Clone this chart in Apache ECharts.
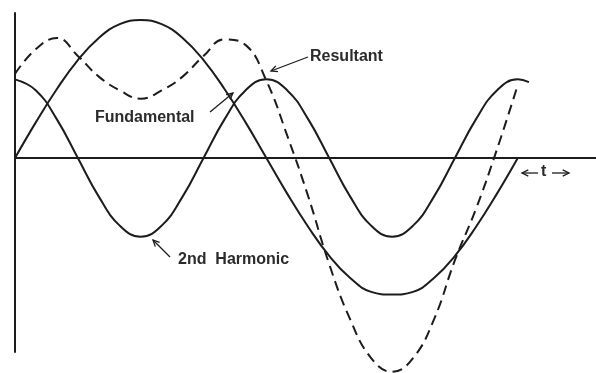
<!DOCTYPE html>
<html>
<head>
<meta charset="utf-8">
<script src="https://cdn.jsdelivr.net/npm/echarts@6/dist/echarts.min.js"></script>
<style>
  html, body { margin: 0; padding: 0; background: #ffffff; }
  #chart { width: 596px; height: 373px; }
</style>
</head>
<body>
<div id="chart"></div>
<script>
// Phase angle in degrees over one period of the fundamental
var phase = [0, 15, 30, 45, 60, 75, 90, 105, 120, 135, 150, 165, 180,
             195, 210, 225, 240, 255, 270, 285, 300, 315, 330, 345, 360];

// Instantaneous values, fundamental peak = 1
var fundamental = [0, 0.26, 0.50, 0.71, 0.87, 0.97, 1.00, 0.97, 0.87, 0.71, 0.50, 0.26, 0,
                   -0.26, -0.50, -0.71, -0.87, -0.97, -0.99, -0.97, -0.87, -0.71, -0.50, -0.26, 0];
var secondHarmonic = [0.57, 0.49, 0.28, 0, -0.28, -0.49, -0.57, -0.49, -0.28, 0, 0.28, 0.49, 0.57,
                      0.49, 0.28, 0, -0.28, -0.49, -0.57, -0.49, -0.28, 0, 0.28, 0.49, 0.57];
var resultant = [0.61, 0.79, 0.87, 0.74, 0.59, 0.49, 0.43, 0.49, 0.59, 0.74, 0.86, 0.82, 0.56,
                 0.16, -0.28, -0.77, -1.17, -1.45, -1.55, -1.45, -1.17, -0.74, -0.37, 0.06, 0.53];

// The harmonic trace runs a little past the end of the period
var harmonicTailPhase = [368];
var harmonicTail = [0.55];

var labels = { fundamental: 'Fundamental', harmonic: '2nd  Harmonic', resultant: 'Resultant', time: 't' };

function pairs(xs, ys) {
  return xs.map(function (x, i) { return [x, ys[i]]; });
}

var INK = '#1c1c1c';
var TEXT = '#2b2b2b';
var FONT = '"Liberation Sans", Arial, sans-serif';

function curve(name, data, dashed) {
  return {
    name: name,
    type: 'line',
    data: data,
    smooth: 0.45,
    symbol: 'none',
    clip: false,
    lineStyle: { color: INK, width: 2, type: dashed ? [10, 6] : 'solid' }
  };
}

// pointer line with an open arrowhead at (x2, y2)
function pointer(x1, y1, x2, y2) {
  var a = Math.atan2(y2 - y1, x2 - x1), L = 7, w = 0.45;
  return {
    type: 'group',
    children: [
      { type: 'line', shape: { x1: x1, y1: y1, x2: x2, y2: y2 },
        style: { stroke: INK, lineWidth: 1.3 } },
      { type: 'polyline',
        shape: { points: [
          [x2 - L * Math.cos(a - w), y2 - L * Math.sin(a - w)],
          [x2, y2],
          [x2 - L * Math.cos(a + w), y2 - L * Math.sin(a + w)]
        ] },
        style: { stroke: INK, lineWidth: 1.3, fill: null } }
    ]
  };
}

function label(text, x, y) {
  return {
    type: 'text', left: x, top: y,
    style: { text: text, fill: TEXT, font: 'bold 16px ' + FONT, textVerticalAlign: 'middle' }
  };
}

var chart = echarts.init(document.getElementById('chart'), null, { renderer: 'canvas' });

chart.setOption({
  animation: false,
  backgroundColor: '#ffffff',
  grid: { left: 15, right: 0, top: 13, bottom: 21 },
  xAxis: {
    type: 'value', min: 0, max: 416,
    axisLine: { onZero: true, lineStyle: { color: INK, width: 2 } },
    axisTick: { show: false }, axisLabel: { show: false }, splitLine: { show: false }
  },
  yAxis: {
    type: 'value', min: -1.406, max: 1.051,
    axisLine: { show: true, lineStyle: { color: INK, width: 2 } },
    axisTick: { show: false }, axisLabel: { show: false }, splitLine: { show: false }
  },
  series: [
    curve(labels.fundamental, pairs(phase, fundamental), false),
    curve(labels.harmonic, pairs(phase, secondHarmonic).concat(pairs(harmonicTailPhase, harmonicTail)), false),
    curve(labels.resultant, pairs(phase, resultant), true)
  ],
  graphic: [
    { type: 'text', left: 95, top: 110, style: { text: labels.fundamental, fill: TEXT, font: 'bold 16px ' + FONT } },
    { type: 'text', left: 310, top: 49, style: { text: labels.resultant, fill: TEXT, font: 'bold 16px ' + FONT } },
    { type: 'text', left: 178, top: 252, style: { text: labels.harmonic, fill: TEXT, font: 'bold 16px ' + FONT } },
    pointer(210, 112, 233, 93),
    pointer(308, 57, 271, 71),
    pointer(170, 257, 153, 240),
    // time-axis marker
    pointer(538, 173, 522, 173),
    pointer(552, 173, 569, 173),
    { type: 'text', left: 541, top: 164, style: { text: labels.time, fill: TEXT, font: 'bold 16px ' + FONT } }
  ]
});
</script>
</body>
</html>
